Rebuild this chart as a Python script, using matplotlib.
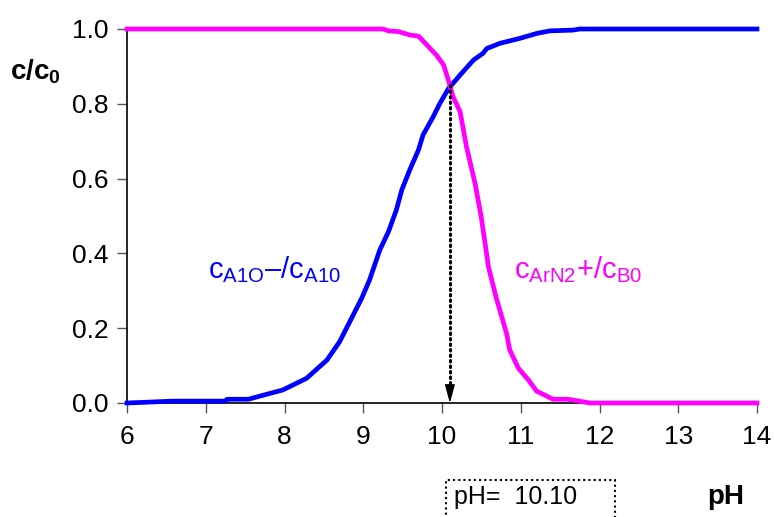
import matplotlib
matplotlib.use("Agg")
import matplotlib.pyplot as plt
from matplotlib.patches import Rectangle

plt.rcParams['font.family'] = ['Liberation Sans', 'DejaVu Sans']
plt.rcParams['mathtext.fontset'] = 'custom'
plt.rcParams['mathtext.rm'] = 'Liberation Sans'
plt.rcParams['mathtext.it'] = 'Liberation Sans'
plt.rcParams['mathtext.bf'] = 'Liberation Sans:bold'

# Fraction of phenolate anion vs pH
ph_anion = [6.0, 6.58, 7.25, 7.27, 7.54, 7.98, 8.28, 8.54, 8.70, 8.92, 8.98,
            9.08, 9.21, 9.32, 9.42, 9.49, 9.59, 9.70, 9.76, 9.89, 9.97, 10.08,
            10.23, 10.40, 10.52, 10.57, 10.74, 10.99, 11.20, 11.37, 11.66,
            11.75, 14.0]
frac_anion = [0.0, 0.005, 0.005, 0.01, 0.01, 0.035, 0.066, 0.115, 0.164, 0.255,
              0.28, 0.329, 0.409, 0.458, 0.516, 0.57, 0.623, 0.676, 0.717,
              0.766, 0.800, 0.840, 0.877, 0.917, 0.935, 0.948, 0.962, 0.975,
              0.988, 0.995, 0.997, 1.0, 1.0]

# Fraction of diazonium cation vs pH
ph_cation = [6.0, 9.25, 9.32, 9.45, 9.59, 9.70, 9.81, 9.93, 10.02, 10.08,
             10.14, 10.23, 10.31, 10.42, 10.50, 10.59, 10.69, 10.82, 10.86,
             10.97, 11.10, 11.20, 11.41, 11.60, 11.88, 14.0]
frac_cation = [1.0, 1.0, 0.995, 0.993, 0.984, 0.981, 0.957, 0.930, 0.904, 0.864,
               0.819, 0.779, 0.686, 0.587, 0.495, 0.364, 0.280, 0.186, 0.142,
               0.093, 0.061, 0.032, 0.010, 0.010, 0.0, 0.0]

ph_cross = 10.10
frac_cross = 0.85

x_ticks = [6, 7, 8, 9, 10, 11, 12, 13, 14]
y_ticks = [0.0, 0.2, 0.4, 0.6, 0.8, 1.0]

fig = plt.figure(figsize=(7.74, 5.17), dpi=100)
ax = fig.add_axes([127 / 774, 1 - 403 / 517, 630 / 774, 374 / 517])

ax.plot(ph_anion, frac_anion, color='#0000FF', lw=3.4, solid_joinstyle='round',
        clip_on=False, zorder=3)
ax.plot(ph_cation, frac_cation, color='#FF00FF', lw=3.4, solid_joinstyle='round',
        clip_on=False, zorder=3)

# dotted drop line from the crossing point to the pH axis, with arrow tip
ax.plot([ph_cross, ph_cross], [frac_cross, 0.02], color='black', lw=2.2,
        linestyle=(0, (0.5, 1.3)), dash_capstyle='round', zorder=4)
ax.annotate('', xy=(ph_cross, 0.0), xytext=(ph_cross, 0.04),
            arrowprops=dict(arrowstyle='-|>,head_length=0.8,head_width=0.22',
                            color='black', lw=1.0, mutation_scale=14,
                            shrinkA=0, shrinkB=0),
            zorder=4)

ax.set_xlim(6, 14)
ax.set_ylim(0, 1)
ax.set_xticks(x_ticks)
ax.set_yticks(y_ticks)
ax.set_xticklabels([str(v) for v in x_ticks])
ax.set_yticklabels([f'{v:.1f}' for v in y_ticks])
ax.tick_params(axis='both', direction='out', length=7, width=1, labelsize=19,
               color='#555555', pad=6)
ax.tick_params(axis='x', pad=9)
for s in ['top', 'right']:
    ax.spines[s].set_visible(False)
for s in ['left', 'bottom']:
    ax.spines[s].set_linewidth(1.2)

ax.text(7.87, 0.356, 'c$_{A1O}$\u2013/c$_{A10}$', color='#0000FF',
        fontsize=21, ha='center', va='center')
ax.text(11.73, 0.356, 'c$_{ArN2}$+/c$_{B0}$', color='#FF00FF',
        fontsize=21, ha='center', va='center')

fig.text(10 / 774, 1 - 72 / 517, r'$\mathbf{c/c_0}$', fontsize=20,
         ha='left', va='center')
fig.text(726 / 774, 1 - 497 / 517, 'pH', fontsize=20, fontweight='bold',
         ha='center', va='center')

# result box for the crossing pH
fig.patches.append(Rectangle((446 / 774, -0.02), (615 - 446) / 774,
                             0.02 + 1 - 480 / 517, transform=fig.transFigure,
                             fill=False, ec='black', lw=1.5,
                             linestyle=(0, (1, 1.5))))
fig.text(454 / 774, 1 - 497 / 517, f'pH=  {ph_cross:.2f}', fontsize=18,
         ha='left', va='center')

fig.savefig('out.png', dpi=100)
